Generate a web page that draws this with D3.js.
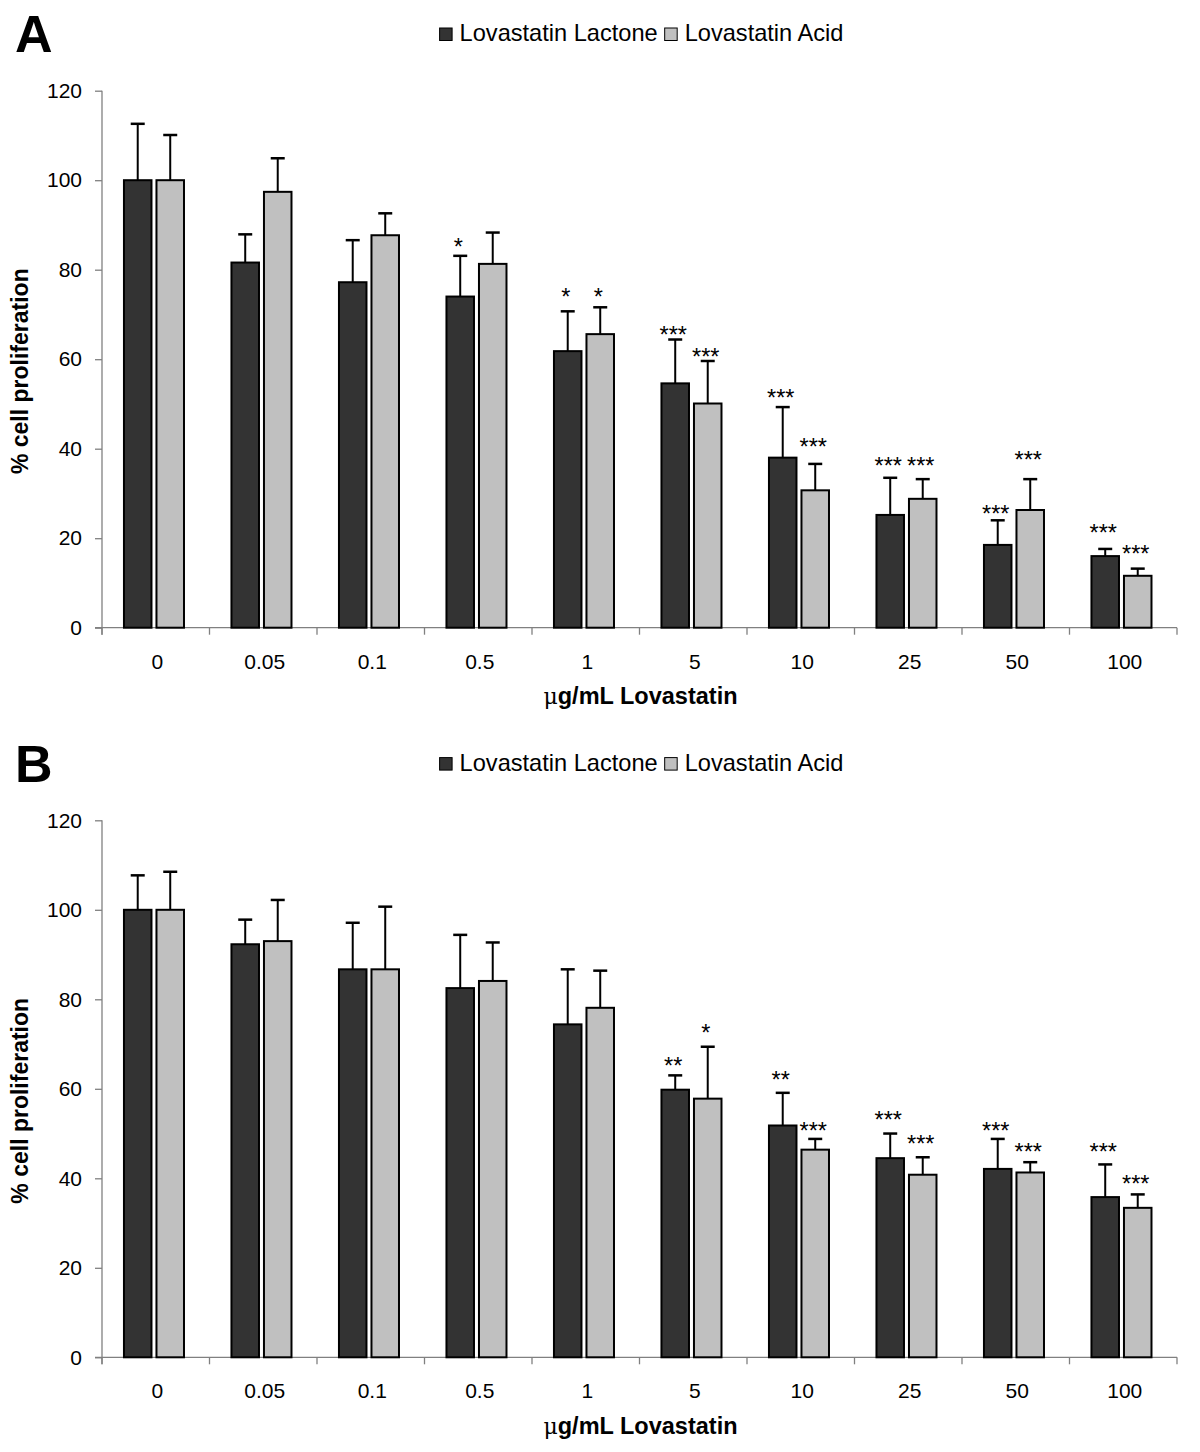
<!DOCTYPE html>
<html>
<head>
<meta charset="utf-8">
<script src="https://cdn.jsdelivr.net/npm/d3@7"></script>
<style>
  html, body { margin: 0; padding: 0; background: #fff; }
  svg { display: block; font-family: "Liberation Sans", Arial, sans-serif; }
</style>
</head>
<body>
<svg id="chart" width="1200" height="1452"></svg>
<script>
// ---------- data ----------
const categories = ["0", "0.05", "0.1", "0.5", "1", "5", "10", "25", "50", "100"];
const seriesNames = ["Lovastatin Lactone", "Lovastatin Acid"];
const yTicks = [0, 20, 40, 60, 80, 100, 120];

// Panel A
const lactoneA    = [100, 81.6, 77.2, 74.0, 61.8, 54.6, 38.0, 25.2, 18.5, 16.0];
const lactoneAErr = [12.6, 6.3, 9.4, 9.1, 8.9, 9.8, 11.3, 8.3, 5.5, 1.6];
const acidA       = [100, 97.4, 87.7, 81.3, 65.6, 50.1, 30.7, 28.8, 26.3, 11.6];
const acidAErr    = [10.1, 7.5, 4.9, 7.0, 6.0, 9.5, 5.9, 4.4, 6.9, 1.6];
const lactoneASig = ["", "", "", "*", "*", "***", "***", "***", "***", "***"];
const acidASig    = ["", "", "", "", "*", "***", "***", "***", "***", "***"];
const lactoneASigAt = [null, null, null, 86.2, 75.1, 66.7, 52.6, 37.3, 26.7, 22.3];
const acidASigAt    = [null, null, null, null, 75.1, 61.7, 41.7, 37.3, 38.6, 17.6];

// Panel B
const lactoneB    = [100, 92.3, 86.7, 82.5, 74.4, 59.8, 51.8, 44.5, 42.1, 35.8];
const lactoneBErr = [7.7, 5.5, 10.4, 11.9, 12.3, 3.2, 7.3, 5.5, 6.7, 7.3];
const acidB       = [100, 93.0, 86.7, 84.1, 78.1, 57.8, 46.4, 40.8, 41.3, 33.4];
const acidBErr    = [8.5, 9.2, 14.0, 8.6, 8.3, 11.6, 2.4, 3.9, 2.3, 3.0];
const lactoneBSig = ["", "", "", "", "", "**", "**", "***", "***", "***"];
const acidBSig    = ["", "", "", "", "", "*", "***", "***", "***", "***"];
const lactoneBSigAt = [null, null, null, null, null, 66.3, 63.2, 54.3, 51.8, 47.0];
const acidBSigAt    = [null, null, null, null, null, 73.6, 51.8, 49.0, 47.0, 39.9];

const panels = [
  { letter: "A", offset: 0,
    series: [
      { name: seriesNames[0], values: lactoneA, err: lactoneAErr, sig: lactoneASig, sigAt: lactoneASigAt },
      { name: seriesNames[1], values: acidA, err: acidAErr, sig: acidASig, sigAt: acidASigAt }
    ] },
  { letter: "B", offset: 729.6,
    series: [
      { name: seriesNames[0], values: lactoneB, err: lactoneBErr, sig: lactoneBSig, sigAt: lactoneBSigAt },
      { name: seriesNames[1], values: acidB, err: acidBErr, sig: acidBSig, sigAt: acidBSigAt }
    ] }
];

// ---------- styling ----------
const fills = ["#333333", "#c0c0c0"];
const axisColor = "#808080";
const left = 102, right = 1177, yTop = 90.7, yBottom = 627.7;

const svg = d3.select("#chart");

const x0 = d3.scaleBand().domain(categories).range([left, right]).paddingInner(0).paddingOuter(0);
const bw = x0.bandwidth();
const x1 = d3.scaleBand().domain(seriesNames).range([bw * 0.195, bw * 0.772]).paddingInner(0.092).paddingOuter(0);
const y = d3.scaleLinear().domain([0, 120]).range([yBottom, yTop]);

panels.forEach(p => {
  const g = svg.append("g").attr("transform", `translate(0,${p.offset})`);

  // panel letter
  g.append("text").attr("x", 15).attr("y", 52)
    .attr("font-size", 52).attr("font-weight", "bold").attr("fill", "#000")
    .text(p.letter);

  // legend
  const leg = g.append("g");
  let cx = 0;
  seriesNames.forEach((name, i) => {
    const it = leg.append("g").attr("transform", `translate(${cx},0)`);
    it.append("rect").attr("x", 0).attr("y", 28).attr("width", 12.5).attr("height", 12.5)
      .attr("fill", fills[i]).attr("stroke", "#000").attr("stroke-width", 1);
    const t = it.append("text").attr("x", 20).attr("y", 41)
      .attr("font-size", 23.6).attr("fill", "#000").text(name);
    const w = t.node().getComputedTextLength();
    cx += 20 + w + 7;
  });
  const legW = cx - 7;
  leg.attr("transform", `translate(${(left + right) / 2 + 2 - legW / 2},0)`);

  // y axis
  const yAxis = d3.axisLeft(y).tickValues(yTicks).tickSize(7).tickPadding(13).tickSizeOuter(0);
  const ya = g.append("g").attr("transform", `translate(${left},0)`).call(yAxis);
  ya.select(".domain").attr("stroke", axisColor).attr("stroke-width", 1.3)
    .attr("d", `M0,${yTop}V${yBottom + 7}`);
  ya.selectAll(".tick line").attr("stroke", axisColor).attr("stroke-width", 1.3);
  ya.selectAll(".tick text").attr("font-size", 21).attr("fill", "#000")
    .attr("font-family", "Liberation Sans, Arial, sans-serif");

  // x axis
  const xa = g.append("g").attr("transform", `translate(0,${yBottom})`);
  xa.append("line").attr("x1", left - 7).attr("x2", right).attr("y1", 0).attr("y2", 0)
    .attr("stroke", axisColor).attr("stroke-width", 1.3);
  const boundaries = categories.map(c => x0(c)).concat([right]);
  xa.selectAll("line.xt").data(boundaries).enter().append("line").attr("class", "xt")
    .attr("x1", d => d).attr("x2", d => d).attr("y1", 0).attr("y2", 7)
    .attr("stroke", axisColor).attr("stroke-width", 1.3);
  xa.selectAll("text.xl").data(categories).enter().append("text").attr("class", "xl")
    .attr("x", d => x0(d) + bw / 2 + 1.5).attr("y", 41)
    .attr("text-anchor", "middle").attr("font-size", 21).attr("fill", "#000")
    .text(d => d);

  // axis titles
  const xt = g.append("text").attr("x", (left + right) / 2 + 1).attr("y", 704)
    .attr("text-anchor", "middle").attr("font-size", 23.5).attr("font-weight", "bold").attr("fill", "#000");
  xt.append("tspan").attr("font-weight", "normal").attr("font-family", "DejaVu Serif, serif").attr("font-size", 22).text("μ");
  xt.append("tspan").text("g/mL Lovastatin");

  g.append("text").attr("transform", `translate(28,${(yTop + yBottom) / 2 + 12}) rotate(-90)`)
    .attr("text-anchor", "middle").attr("font-size", 23).attr("font-weight", "bold").attr("fill", "#000")
    .text("% cell proliferation");

  // bars
  p.series.forEach((s, si) => {
    const sg = g.append("g");
    const data = categories.map((c, i) => ({ c, v: s.values[i], e: s.err[i], sig: s.sig[i], at: s.sigAt[i] }));
    const bx = d => x0(d.c) + x1(s.name);
    // error bars (upper)
    sg.selectAll("line.eb").data(data).enter().append("line").attr("class", "eb")
      .attr("x1", d => bx(d) + x1.bandwidth() / 2).attr("x2", d => bx(d) + x1.bandwidth() / 2)
      .attr("y1", d => y(d.v)).attr("y2", d => y(d.v + d.e))
      .attr("stroke", "#000").attr("stroke-width", 2);
    sg.selectAll("line.cap").data(data).enter().append("line").attr("class", "cap")
      .attr("x1", d => bx(d) + x1.bandwidth() / 2 - 7).attr("x2", d => bx(d) + x1.bandwidth() / 2 + 7)
      .attr("y1", d => y(d.v + d.e)).attr("y2", d => y(d.v + d.e))
      .attr("stroke", "#000").attr("stroke-width", 2.5);
    sg.selectAll("rect").data(data).enter().append("rect")
      .attr("x", d => bx(d) + 1).attr("width", x1.bandwidth() - 2)
      .attr("y", d => y(d.v)).attr("height", d => y(0) - y(d.v))
      .attr("fill", fills[si]).attr("stroke", "#000").attr("stroke-width", 2);
    sg.selectAll("text.sig").data(data.filter(d => d.sig)).enter().append("text").attr("class", "sig")
      .attr("x", d => bx(d) + x1.bandwidth() / 2 - 2).attr("y", d => y(d.at) + 13.5)
      .attr("text-anchor", "middle").attr("font-size", 23.5).attr("fill", "#000")
      .text(d => d.sig);
  });
});
</script>
</body>
</html>
